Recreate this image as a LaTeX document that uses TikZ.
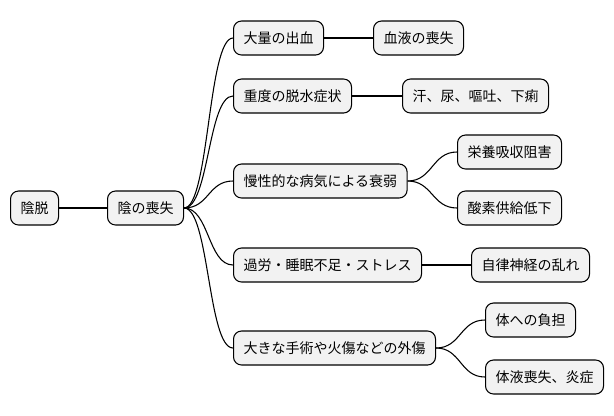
\documentclass[tikz,border=0pt]{standalone}
\usepackage{fontspec}
\setmainfont{Noto Sans CJK JP}
\tikzset{
  topic/.style={draw=black, fill=gray!10, rounded corners=6pt, line width=0.8pt,
    minimum height=25.5pt, inner xsep=7.5pt, font=\fontsize{10.5}{12}\selectfont, anchor=west},
  branch/.style={line width=0.8pt}
}
\begin{document}
\begin{tikzpicture}[x=0.75pt,y=-0.75pt]
\useasboundingbox (0,0) rectangle (614,415);

\node[topic] (root) at (10,208) {陰脱};
\node[topic] (loss) at (107,208) {陰の喪失};

\node[topic] (bleed) at (233,38) {大量の出血};
\node[topic] (blood) at (373,38) {血液の喪失};
\node[topic] (dehyd) at (233,96) {重度の脱水症状};
\node[topic] (sweat) at (402,96) {汗、尿、嘔吐、下痢};
\node[topic] (chron) at (233,181) {慢性的な病気による衰弱};
\node[topic] (nutr) at (457,152) {栄養吸収阻害};
\node[topic] (oxy) at (457,208) {酸素供給低下};
\node[topic] (stress) at (233,265) {過労・睡眠不足・ストレス};
\node[topic] (auto) at (471,265) {自律神経の乱れ};
\node[topic] (injury) at (233,348) {大きな手術や火傷などの外傷};
\node[topic] (body) at (485,320) {体への負担};
\node[topic] (fluid) at (485,377) {体液喪失、炎症};

\draw[branch] (root.east) -- (loss.west);
\foreach \c in {bleed,dehyd,chron,stress,injury}
  \draw[branch] (loss.east) .. controls +(25,0) and +(-25,0) .. (\c.west);
\draw[branch] (bleed.east) -- (blood.west);
\draw[branch] (dehyd.east) -- (sweat.west);
\draw[branch] (stress.east) -- (auto.west);
\foreach \p/\c in {chron/nutr,chron/oxy,injury/body,injury/fluid}
  \draw[branch] (\p.east) .. controls +(25,0) and +(-25,0) .. (\c.west);

\end{tikzpicture}
\end{document}
